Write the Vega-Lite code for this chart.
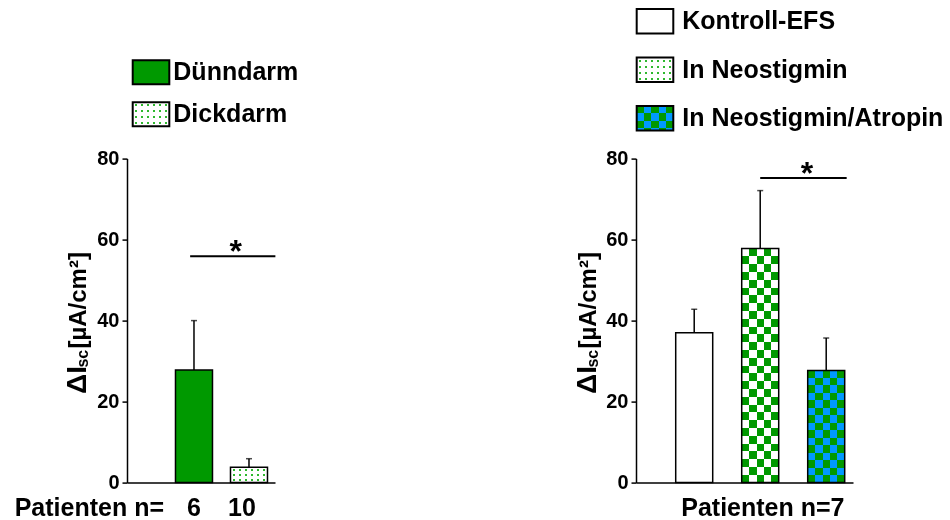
{
  "$schema": "https://vega.github.io/schema/vega-lite/v6.json",
  "autosize": {"type": "pad"},
  "padding": {"left": 14, "top": 8, "right": 2, "bottom": 2},
  "config": {
    "view": {"stroke": null},
    "font": "Liberation Sans",
    "axis": {"domainColor": "black", "tickColor": "black", "labelColor": "black", "grid": false},
    "text": {"font": "Liberation Sans", "fontWeight": "bold", "fontSize": 25, "color": "black"}
  },
  "datasets": {
    "links": [
      {"gruppe": "Dünndarm", "idx": 1, "mw": 27.8, "ob": 40.0, "n": 6},
      {"gruppe": "Dickdarm", "idx": 2, "mw": 3.8, "ob": 5.9, "n": 10}
    ],
    "rechts": [
      {"gruppe": "Kontroll-EFS", "idx": 1, "mw": 37.0, "ob": 42.8},
      {"gruppe": "In Neostigmin", "idx": 2, "mw": 57.8, "ob": 72.1},
      {"gruppe": "In Neostigmin/Atropin", "idx": 3, "mw": 27.7, "ob": 35.7}
    ],
    "sig_links": [{"von": 0.93, "bis": 2.48, "mitte": 1.76, "hoehe": 55.9}],
    "sig_rechts": [{"von": 2.0, "bis": 3.31, "mitte": 2.71, "hoehe": 75.2}]
  },
  "bounds": "flush",
  "spacing": 509,
  "hconcat": [
    {
      "bounds": "flush",
      "spacing": 27.6,
      "vconcat": [
        {
          "width": 148,
          "height": 121.4,
          "data": {"name": "links"},
          "layer": [
            {
              "transform": [{"filter": "datum.gruppe === 'Dünndarm'"}],
              "mark": {"type": "bar", "orient": "horizontal", "fill": "#009900", "stroke": "black", "strokeWidth": 2},
              "encoding": {
                "x": {"datum": 0, "scale": {"domain": [-0.156, 3.888], "padding": 0, "nice": false, "zero": false}, "axis": null},
                "x2": {"datum": 1},
                "y": {"field": "gruppe", "type": "nominal", "sort": null, "axis": null, "scale": {"type": "band", "paddingInner": 0.43, "paddingOuter": 0.657, "align": 0.926}}
              }
            },
            {
              "transform": [{"filter": "datum.gruppe === 'Dickdarm'"}],
              "mark": {"type": "bar", "orient": "horizontal", "fill": {"gradient": "linear", "x1": 0, "y1": 0, "x2": 1, "y2": 0, "stops": [
                {"offset": 0, "color": "#ffffff"}, {"offset": 0.055, "color": "#ffffff"}, {"offset": 0.055, "color": "#2eb82e"}, {"offset": 0.111, "color": "#2eb82e"}, {"offset": 0.111, "color": "#ffffff"},
                {"offset": 0.222, "color": "#ffffff"}, {"offset": 0.222, "color": "#2eb82e"}, {"offset": 0.278, "color": "#2eb82e"}, {"offset": 0.278, "color": "#ffffff"},
                {"offset": 0.389, "color": "#ffffff"}, {"offset": 0.389, "color": "#2eb82e"}, {"offset": 0.444, "color": "#2eb82e"}, {"offset": 0.444, "color": "#ffffff"},
                {"offset": 0.555, "color": "#ffffff"}, {"offset": 0.555, "color": "#2eb82e"}, {"offset": 0.611, "color": "#2eb82e"}, {"offset": 0.611, "color": "#ffffff"},
                {"offset": 0.722, "color": "#ffffff"}, {"offset": 0.722, "color": "#2eb82e"}, {"offset": 0.778, "color": "#2eb82e"}, {"offset": 0.778, "color": "#ffffff"},
                {"offset": 0.889, "color": "#ffffff"}, {"offset": 0.889, "color": "#2eb82e"}, {"offset": 0.944, "color": "#2eb82e"}, {"offset": 0.944, "color": "#ffffff"}, {"offset": 1, "color": "#ffffff"}]}},
              "encoding": {
                "x": {"datum": 0},
                "x2": {"datum": 1},
                "y": {"field": "gruppe", "type": "nominal", "sort": null}
              }
            },
            {
              "transform": [{"filter": "datum.gruppe === 'Dickdarm'"}],
              "mark": {"type": "bar", "orient": "horizontal", "blend": "lighten", "fill": {"gradient": "linear", "x1": 0, "y1": 0, "x2": 0, "y2": 1, "stops": [
                {"offset": 0, "color": "#ffffff"}, {"offset": 0.083, "color": "#ffffff"}, {"offset": 0.083, "color": "#000000"}, {"offset": 0.167, "color": "#000000"}, {"offset": 0.167, "color": "#ffffff"},
                {"offset": 0.333, "color": "#ffffff"}, {"offset": 0.333, "color": "#000000"}, {"offset": 0.417, "color": "#000000"}, {"offset": 0.417, "color": "#ffffff"},
                {"offset": 0.583, "color": "#ffffff"}, {"offset": 0.583, "color": "#000000"}, {"offset": 0.667, "color": "#000000"}, {"offset": 0.667, "color": "#ffffff"},
                {"offset": 0.833, "color": "#ffffff"}, {"offset": 0.833, "color": "#000000"}, {"offset": 0.917, "color": "#000000"}, {"offset": 0.917, "color": "#ffffff"}, {"offset": 1, "color": "#ffffff"}]}},
              "encoding": {
                "x": {"datum": 0},
                "x2": {"datum": 1},
                "y": {"field": "gruppe", "type": "nominal", "sort": null}
              }
            },
            {
              "transform": [{"filter": "datum.gruppe === 'Dickdarm'"}],
              "mark": {"type": "bar", "orient": "horizontal", "fillOpacity": 0, "stroke": "black", "strokeWidth": 2},
              "encoding": {
                "x": {"datum": 0},
                "x2": {"datum": 1},
                "y": {"field": "gruppe", "type": "nominal", "sort": null}
              }
            },
            {
              "mark": {"type": "text", "align": "left", "baseline": "middle", "dx": 4},
              "encoding": {
                "x": {"datum": 1},
                "y": {"field": "gruppe", "type": "nominal", "sort": null},
                "text": {"field": "gruppe"}
              }
            }
          ]
        },
        {
          "width": 148,
          "height": 324,
          "data": {"name": "links"},
          "layer": [
            {
              "transform": [{"filter": "datum.gruppe === 'Dünndarm'"}],
              "mark": {"type": "bar", "orient": "vertical", "width": 37, "fill": "#009900"},
              "encoding": {
                "x": {"field": "idx", "type": "quantitative", "title": null, "scale": {"domain": [-0.218, 2.473], "padding": 0, "nice": false, "zero": false},
                  "axis": {"labels": false, "ticks": false, "domain": true, "domainWidth": 1.5, "title": null}},
                "y": {"field": "mw", "type": "quantitative", "title": null, "scale": {"domain": [0, 80], "padding": 0, "nice": false},
                  "axis": {"values": [0, 20, 40, 60, 80], "labelFontSize": 20, "labelFontWeight": "bold", "labelFont": "Liberation Sans", "tickSize": 5, "tickWidth": 1.5, "domainWidth": 1.5, "labelPadding": 3, "title": null}}
              }
            },
            {
              "transform": [{"filter": "datum.gruppe === 'Dickdarm'"}],
              "mark": {"type": "bar", "orient": "vertical", "width": 37, "fill": {"gradient": "linear", "x1": 0, "y1": 0, "x2": 1, "y2": 0, "stops": [
                {"offset": 0, "color": "#ffffff"}, {"offset": 0.055, "color": "#ffffff"}, {"offset": 0.055, "color": "#2eb82e"}, {"offset": 0.111, "color": "#2eb82e"}, {"offset": 0.111, "color": "#ffffff"},
                {"offset": 0.222, "color": "#ffffff"}, {"offset": 0.222, "color": "#2eb82e"}, {"offset": 0.278, "color": "#2eb82e"}, {"offset": 0.278, "color": "#ffffff"},
                {"offset": 0.389, "color": "#ffffff"}, {"offset": 0.389, "color": "#2eb82e"}, {"offset": 0.444, "color": "#2eb82e"}, {"offset": 0.444, "color": "#ffffff"},
                {"offset": 0.555, "color": "#ffffff"}, {"offset": 0.555, "color": "#2eb82e"}, {"offset": 0.611, "color": "#2eb82e"}, {"offset": 0.611, "color": "#ffffff"},
                {"offset": 0.722, "color": "#ffffff"}, {"offset": 0.722, "color": "#2eb82e"}, {"offset": 0.778, "color": "#2eb82e"}, {"offset": 0.778, "color": "#ffffff"},
                {"offset": 0.889, "color": "#ffffff"}, {"offset": 0.889, "color": "#2eb82e"}, {"offset": 0.944, "color": "#2eb82e"}, {"offset": 0.944, "color": "#ffffff"}, {"offset": 1, "color": "#ffffff"}]}},
              "encoding": {
                "x": {"field": "idx", "type": "quantitative", "title": null},
                "y": {"field": "mw", "type": "quantitative", "title": null}
              }
            },
            {
              "transform": [{"filter": "datum.gruppe === 'Dickdarm'"}],
              "mark": {"type": "bar", "orient": "vertical", "width": 37, "blend": "lighten", "fill": {"gradient": "linear", "x1": 0, "y1": 0, "x2": 0, "y2": 1, "stops": [
                {"offset": 0, "color": "#ffffff"}, {"offset": 0.1, "color": "#ffffff"}, {"offset": 0.1, "color": "#000000"}, {"offset": 0.233, "color": "#000000"}, {"offset": 0.233, "color": "#ffffff"},
                {"offset": 0.433, "color": "#ffffff"}, {"offset": 0.433, "color": "#000000"}, {"offset": 0.567, "color": "#000000"}, {"offset": 0.567, "color": "#ffffff"},
                {"offset": 0.767, "color": "#ffffff"}, {"offset": 0.767, "color": "#000000"}, {"offset": 0.9, "color": "#000000"}, {"offset": 0.9, "color": "#ffffff"}, {"offset": 1, "color": "#ffffff"}]}},
              "encoding": {
                "x": {"field": "idx", "type": "quantitative", "title": null},
                "y": {"field": "mw", "type": "quantitative", "title": null}
              }
            },
            {
              "mark": {"type": "bar", "orient": "vertical", "width": 37, "fillOpacity": 0, "stroke": "black", "strokeWidth": 1.5},
              "encoding": {
                "x": {"field": "idx", "type": "quantitative", "title": null},
                "y": {"field": "mw", "type": "quantitative", "title": null}
              }
            },
            {
              "mark": {"type": "rule", "color": "black", "strokeWidth": 1.5},
              "encoding": {
                "x": {"field": "idx", "type": "quantitative", "title": null},
                "y": {"field": "mw", "type": "quantitative", "title": null},
                "y2": {"field": "ob"}
              }
            },
            {
              "mark": {"type": "tick", "orient": "horizontal", "size": 6, "thickness": 1.5, "color": "black"},
              "encoding": {
                "x": {"field": "idx", "type": "quantitative", "title": null},
                "y": {"field": "ob", "type": "quantitative", "title": null}
              }
            },
            {
              "data": {"name": "sig_links"},
              "mark": {"type": "rule", "color": "black", "strokeWidth": 2},
              "encoding": {
                "x": {"field": "von", "type": "quantitative", "title": null},
                "x2": {"field": "bis"},
                "y": {"field": "hoehe", "type": "quantitative", "title": null}
              }
            },
            {
              "data": {"name": "sig_links"},
              "mark": {"type": "text", "text": "*", "fontSize": 32, "baseline": "alphabetic", "dy": 6},
              "encoding": {
                "x": {"field": "mitte", "type": "quantitative", "title": null},
                "y": {"field": "hoehe", "type": "quantitative", "title": null}
              }
            },
            {
              "transform": [{"filter": "datum.idx === 1"}],
              "mark": {"type": "text", "align": "center", "baseline": "alphabetic"},
              "encoding": {
                "x": {"field": "idx", "type": "quantitative", "title": null},
                "y": {"datum": -8.15},
                "text": {"field": "n"}
              }
            },
            {
              "transform": [{"filter": "datum.idx === 2"}],
              "mark": {"type": "text", "align": "center", "baseline": "alphabetic", "dx": -7},
              "encoding": {
                "x": {"field": "idx", "type": "quantitative", "title": null},
                "y": {"datum": -8.15},
                "text": {"field": "n"}
              }
            },
            {
              "data": {"values": [{"t": "Patienten n="}]},
              "mark": {"type": "text", "align": "right", "baseline": "alphabetic"},
              "encoding": {
                "x": {"datum": 0.455},
                "y": {"datum": -8.15},
                "text": {"field": "t"}
              }
            },
            {
              "data": {"values": [{"t": "ΔI"}]},
              "mark": {"type": "text", "angle": 270, "align": "left", "baseline": "alphabetic", "fontSize": 28},
              "encoding": {"x": {"datum": -0.963}, "y": {"datum": 21.9}, "text": {"field": "t"}}
            },
            {
              "data": {"values": [{"t": "sc"}]},
              "mark": {"type": "text", "angle": 270, "align": "left", "baseline": "alphabetic", "fontSize": 16, "dy": 2},
              "encoding": {"x": {"datum": -0.963}, "y": {"datum": 28.4}, "text": {"field": "t"}}
            },
            {
              "data": {"values": [{"t": "[µA/cm²]"}]},
              "mark": {"type": "text", "angle": 270, "align": "left", "baseline": "alphabetic", "fontSize": 24},
              "encoding": {"x": {"datum": -0.963}, "y": {"datum": 33.1}, "text": {"field": "t"}}
            }
          ]
        }
      ]
    },
    {
      "bounds": "flush",
      "spacing": 27.6,
      "vconcat": [
        {
          "width": 217,
          "height": 121.4,
          "data": {"name": "rechts"},
          "layer": [
            {
              "transform": [{"filter": "datum.gruppe === 'Kontroll-EFS'"}],
              "mark": {"type": "bar", "orient": "horizontal", "fill": "#ffffff", "stroke": "black", "strokeWidth": 2},
              "encoding": {
                "x": {"datum": 0, "scale": {"domain": [-0.019, 5.91], "padding": 0, "nice": false, "zero": false}, "axis": null},
                "x2": {"datum": 1},
                "y": {"field": "gruppe", "type": "nominal", "sort": null, "axis": null, "scale": {"type": "band", "paddingInner": 0.497, "paddingOuter": 0, "align": 0}}
              }
            },
            {
              "transform": [{"filter": "datum.gruppe === 'In Neostigmin'"}],
              "mark": {"type": "bar", "orient": "horizontal", "fill": {"gradient": "linear", "x1": 0, "y1": 0, "x2": 1, "y2": 0, "stops": [
                {"offset": 0, "color": "#ffffff"}, {"offset": 0.055, "color": "#ffffff"}, {"offset": 0.055, "color": "#2eb82e"}, {"offset": 0.111, "color": "#2eb82e"}, {"offset": 0.111, "color": "#ffffff"},
                {"offset": 0.222, "color": "#ffffff"}, {"offset": 0.222, "color": "#2eb82e"}, {"offset": 0.278, "color": "#2eb82e"}, {"offset": 0.278, "color": "#ffffff"},
                {"offset": 0.389, "color": "#ffffff"}, {"offset": 0.389, "color": "#2eb82e"}, {"offset": 0.444, "color": "#2eb82e"}, {"offset": 0.444, "color": "#ffffff"},
                {"offset": 0.555, "color": "#ffffff"}, {"offset": 0.555, "color": "#2eb82e"}, {"offset": 0.611, "color": "#2eb82e"}, {"offset": 0.611, "color": "#ffffff"},
                {"offset": 0.722, "color": "#ffffff"}, {"offset": 0.722, "color": "#2eb82e"}, {"offset": 0.778, "color": "#2eb82e"}, {"offset": 0.778, "color": "#ffffff"},
                {"offset": 0.889, "color": "#ffffff"}, {"offset": 0.889, "color": "#2eb82e"}, {"offset": 0.944, "color": "#2eb82e"}, {"offset": 0.944, "color": "#ffffff"}, {"offset": 1, "color": "#ffffff"}]}},
              "encoding": {
                "x": {"datum": 0},
                "x2": {"datum": 1},
                "y": {"field": "gruppe", "type": "nominal", "sort": null}
              }
            },
            {
              "transform": [{"filter": "datum.gruppe === 'In Neostigmin'"}],
              "mark": {"type": "bar", "orient": "horizontal", "blend": "lighten", "fill": {"gradient": "linear", "x1": 0, "y1": 0, "x2": 0, "y2": 1, "stops": [
                {"offset": 0, "color": "#ffffff"}, {"offset": 0.083, "color": "#ffffff"}, {"offset": 0.083, "color": "#000000"}, {"offset": 0.167, "color": "#000000"}, {"offset": 0.167, "color": "#ffffff"},
                {"offset": 0.333, "color": "#ffffff"}, {"offset": 0.333, "color": "#000000"}, {"offset": 0.417, "color": "#000000"}, {"offset": 0.417, "color": "#ffffff"},
                {"offset": 0.583, "color": "#ffffff"}, {"offset": 0.583, "color": "#000000"}, {"offset": 0.667, "color": "#000000"}, {"offset": 0.667, "color": "#ffffff"},
                {"offset": 0.833, "color": "#ffffff"}, {"offset": 0.833, "color": "#000000"}, {"offset": 0.917, "color": "#000000"}, {"offset": 0.917, "color": "#ffffff"}, {"offset": 1, "color": "#ffffff"}]}},
              "encoding": {
                "x": {"datum": 0},
                "x2": {"datum": 1},
                "y": {"field": "gruppe", "type": "nominal", "sort": null}
              }
            },
            {
              "transform": [{"filter": "datum.gruppe === 'In Neostigmin/Atropin'"}],
              "mark": {"type": "bar", "orient": "horizontal", "fill": {"gradient": "linear", "x1": 0, "y1": 0, "x2": 1, "y2": 0, "stops": [
                {"offset": 0, "color": "#000000"}, {"offset": 0.2, "color": "#000000"}, {"offset": 0.2, "color": "#0000ff"}, {"offset": 0.4, "color": "#0000ff"},
                {"offset": 0.4, "color": "#000000"}, {"offset": 0.6, "color": "#000000"}, {"offset": 0.6, "color": "#0000ff"}, {"offset": 0.8, "color": "#0000ff"},
                {"offset": 0.8, "color": "#000000"}, {"offset": 1, "color": "#000000"}]}},
              "encoding": {
                "x": {"datum": 0},
                "x2": {"datum": 1},
                "y": {"field": "gruppe", "type": "nominal", "sort": null}
              }
            },
            {
              "transform": [{"filter": "datum.gruppe === 'In Neostigmin/Atropin'"}],
              "mark": {"type": "bar", "orient": "horizontal", "blend": "difference", "fill": {"gradient": "linear", "x1": 0, "y1": 0, "x2": 0, "y2": 1, "stops": [
                {"offset": 0, "color": "#000000"}, {"offset": 0.3, "color": "#000000"}, {"offset": 0.3, "color": "#0000ff"}, {"offset": 0.6, "color": "#0000ff"},
                {"offset": 0.6, "color": "#000000"}, {"offset": 0.9, "color": "#000000"}, {"offset": 0.9, "color": "#0000ff"}, {"offset": 1, "color": "#0000ff"}]}},
              "encoding": {
                "x": {"datum": 0},
                "x2": {"datum": 1},
                "y": {"field": "gruppe", "type": "nominal", "sort": null}
              }
            },
            {
              "transform": [{"filter": "datum.gruppe === 'In Neostigmin/Atropin'"}],
              "mark": {"type": "bar", "orient": "horizontal", "blend": "difference", "fill": "#009900"},
              "encoding": {
                "x": {"datum": 0},
                "x2": {"datum": 1},
                "y": {"field": "gruppe", "type": "nominal", "sort": null}
              }
            },
            {
              "transform": [{"filter": "datum.gruppe !== 'Kontroll-EFS'"}],
              "mark": {"type": "bar", "orient": "horizontal", "fillOpacity": 0, "stroke": "black", "strokeWidth": 2},
              "encoding": {
                "x": {"datum": 0},
                "x2": {"datum": 1},
                "y": {"field": "gruppe", "type": "nominal", "sort": null}
              }
            },
            {
              "mark": {"type": "text", "align": "left", "baseline": "middle", "dx": 9},
              "encoding": {
                "x": {"datum": 1},
                "y": {"field": "gruppe", "type": "nominal", "sort": null},
                "text": {"field": "gruppe"}
              }
            }
          ]
        },
        {
          "width": 217,
          "height": 324,
          "data": {"name": "rechts"},
          "layer": [
            {
              "transform": [{"filter": "datum.gruppe === 'Kontroll-EFS'"}],
              "mark": {"type": "bar", "orient": "vertical", "width": 37, "fill": "#ffffff"},
              "encoding": {
                "x": {"field": "idx", "type": "quantitative", "title": null, "scale": {"domain": [0.118, 3.406], "padding": 0, "nice": false, "zero": false},
                  "axis": {"labels": false, "ticks": false, "domain": true, "domainWidth": 1.5, "title": null}},
                "y": {"field": "mw", "type": "quantitative", "title": null, "scale": {"domain": [0, 80], "padding": 0, "nice": false},
                  "axis": {"values": [0, 20, 40, 60, 80], "labelFontSize": 20, "labelFontWeight": "bold", "labelFont": "Liberation Sans", "tickSize": 5, "tickWidth": 1.5, "domainWidth": 1.5, "labelPadding": 3, "title": null}}
              }
            },
            {
              "transform": [{"filter": "datum.gruppe === 'In Neostigmin'"}],
              "mark": {"type": "bar", "orient": "vertical", "width": 37, "fill": {"gradient": "linear", "x1": 0, "y1": 0, "x2": 1, "y2": 0, "stops": [
                {"offset": 0, "color": "#000000"}, {"offset": 0.2, "color": "#000000"}, {"offset": 0.2, "color": "#ff66ff"}, {"offset": 0.4, "color": "#ff66ff"},
                {"offset": 0.4, "color": "#000000"}, {"offset": 0.6, "color": "#000000"}, {"offset": 0.6, "color": "#ff66ff"}, {"offset": 0.8, "color": "#ff66ff"},
                {"offset": 0.8, "color": "#000000"}, {"offset": 1, "color": "#000000"}]}},
              "encoding": {
                "x": {"field": "idx", "type": "quantitative", "title": null},
                "y": {"field": "mw", "type": "quantitative", "title": null}
              }
            },
            {
              "transform": [{"filter": "datum.gruppe === 'In Neostigmin'"}],
              "mark": {"type": "bar", "orient": "vertical", "width": 37, "blend": "difference", "fill": {"gradient": "linear", "x1": 0, "y1": 0, "x2": 0, "y2": 1, "stops": [
                {"offset": 0, "color": "#000000"}, {"offset": 0.0333, "color": "#000000"}, {"offset": 0.0333, "color": "#ff66ff"}, {"offset": 0.0667, "color": "#ff66ff"},
                {"offset": 0.0667, "color": "#000000"}, {"offset": 0.1, "color": "#000000"}, {"offset": 0.1, "color": "#ff66ff"}, {"offset": 0.1333, "color": "#ff66ff"},
                {"offset": 0.1333, "color": "#000000"}, {"offset": 0.1667, "color": "#000000"}, {"offset": 0.1667, "color": "#ff66ff"}, {"offset": 0.2, "color": "#ff66ff"},
                {"offset": 0.2, "color": "#000000"}, {"offset": 0.2333, "color": "#000000"}, {"offset": 0.2333, "color": "#ff66ff"}, {"offset": 0.2667, "color": "#ff66ff"},
                {"offset": 0.2667, "color": "#000000"}, {"offset": 0.3, "color": "#000000"}, {"offset": 0.3, "color": "#ff66ff"}, {"offset": 0.3333, "color": "#ff66ff"},
                {"offset": 0.3333, "color": "#000000"}, {"offset": 0.3667, "color": "#000000"}, {"offset": 0.3667, "color": "#ff66ff"}, {"offset": 0.4, "color": "#ff66ff"},
                {"offset": 0.4, "color": "#000000"}, {"offset": 0.4333, "color": "#000000"}, {"offset": 0.4333, "color": "#ff66ff"}, {"offset": 0.4667, "color": "#ff66ff"},
                {"offset": 0.4667, "color": "#000000"}, {"offset": 0.5, "color": "#000000"}, {"offset": 0.5, "color": "#ff66ff"}, {"offset": 0.5333, "color": "#ff66ff"},
                {"offset": 0.5333, "color": "#000000"}, {"offset": 0.5667, "color": "#000000"}, {"offset": 0.5667, "color": "#ff66ff"}, {"offset": 0.6, "color": "#ff66ff"},
                {"offset": 0.6, "color": "#000000"}, {"offset": 0.6333, "color": "#000000"}, {"offset": 0.6333, "color": "#ff66ff"}, {"offset": 0.6667, "color": "#ff66ff"},
                {"offset": 0.6667, "color": "#000000"}, {"offset": 0.7, "color": "#000000"}, {"offset": 0.7, "color": "#ff66ff"}, {"offset": 0.7333, "color": "#ff66ff"},
                {"offset": 0.7333, "color": "#000000"}, {"offset": 0.7667, "color": "#000000"}, {"offset": 0.7667, "color": "#ff66ff"}, {"offset": 0.8, "color": "#ff66ff"},
                {"offset": 0.8, "color": "#000000"}, {"offset": 0.8333, "color": "#000000"}, {"offset": 0.8333, "color": "#ff66ff"}, {"offset": 0.8667, "color": "#ff66ff"},
                {"offset": 0.8667, "color": "#000000"}, {"offset": 0.9, "color": "#000000"}, {"offset": 0.9, "color": "#ff66ff"}, {"offset": 0.9333, "color": "#ff66ff"},
                {"offset": 0.9333, "color": "#000000"}, {"offset": 0.9667, "color": "#000000"}, {"offset": 0.9667, "color": "#ff66ff"}, {"offset": 1, "color": "#ff66ff"}]}},
              "encoding": {
                "x": {"field": "idx", "type": "quantitative", "title": null},
                "y": {"field": "mw", "type": "quantitative", "title": null}
              }
            },
            {
              "transform": [{"filter": "datum.gruppe === 'In Neostigmin'"}],
              "mark": {"type": "bar", "orient": "vertical", "width": 37, "blend": "difference", "fill": "#ffffff"},
              "encoding": {
                "x": {"field": "idx", "type": "quantitative", "title": null},
                "y": {"field": "mw", "type": "quantitative", "title": null}
              }
            },
            {
              "transform": [{"filter": "datum.gruppe === 'In Neostigmin/Atropin'"}],
              "mark": {"type": "bar", "orient": "vertical", "width": 37, "fill": {"gradient": "linear", "x1": 0, "y1": 0, "x2": 1, "y2": 0, "stops": [
                {"offset": 0, "color": "#000000"}, {"offset": 0.2, "color": "#000000"}, {"offset": 0.2, "color": "#0000ff"}, {"offset": 0.4, "color": "#0000ff"},
                {"offset": 0.4, "color": "#000000"}, {"offset": 0.6, "color": "#000000"}, {"offset": 0.6, "color": "#0000ff"}, {"offset": 0.8, "color": "#0000ff"},
                {"offset": 0.8, "color": "#000000"}, {"offset": 1, "color": "#000000"}]}},
              "encoding": {
                "x": {"field": "idx", "type": "quantitative", "title": null},
                "y": {"field": "mw", "type": "quantitative", "title": null}
              }
            },
            {
              "transform": [{"filter": "datum.gruppe === 'In Neostigmin/Atropin'"}],
              "mark": {"type": "bar", "orient": "vertical", "width": 37, "blend": "difference", "fill": {"gradient": "linear", "x1": 0, "y1": 0, "x2": 0, "y2": 1, "stops": [
                {"offset": 0, "color": "#000000"}, {"offset": 0.0667, "color": "#000000"}, {"offset": 0.0667, "color": "#0000ff"}, {"offset": 0.1333, "color": "#0000ff"},
                {"offset": 0.1333, "color": "#000000"}, {"offset": 0.2, "color": "#000000"}, {"offset": 0.2, "color": "#0000ff"}, {"offset": 0.2667, "color": "#0000ff"},
                {"offset": 0.2667, "color": "#000000"}, {"offset": 0.3333, "color": "#000000"}, {"offset": 0.3333, "color": "#0000ff"}, {"offset": 0.4, "color": "#0000ff"},
                {"offset": 0.4, "color": "#000000"}, {"offset": 0.4667, "color": "#000000"}, {"offset": 0.4667, "color": "#0000ff"}, {"offset": 0.5333, "color": "#0000ff"},
                {"offset": 0.5333, "color": "#000000"}, {"offset": 0.6, "color": "#000000"}, {"offset": 0.6, "color": "#0000ff"}, {"offset": 0.6667, "color": "#0000ff"},
                {"offset": 0.6667, "color": "#000000"}, {"offset": 0.7333, "color": "#000000"}, {"offset": 0.7333, "color": "#0000ff"}, {"offset": 0.8, "color": "#0000ff"},
                {"offset": 0.8, "color": "#000000"}, {"offset": 0.8667, "color": "#000000"}, {"offset": 0.8667, "color": "#0000ff"}, {"offset": 0.9333, "color": "#0000ff"},
                {"offset": 0.9333, "color": "#000000"}, {"offset": 1, "color": "#000000"}]}},
              "encoding": {
                "x": {"field": "idx", "type": "quantitative", "title": null},
                "y": {"field": "mw", "type": "quantitative", "title": null}
              }
            },
            {
              "transform": [{"filter": "datum.gruppe === 'In Neostigmin/Atropin'"}],
              "mark": {"type": "bar", "orient": "vertical", "width": 37, "blend": "difference", "fill": "#009900"},
              "encoding": {
                "x": {"field": "idx", "type": "quantitative", "title": null},
                "y": {"field": "mw", "type": "quantitative", "title": null}
              }
            },
            {
              "mark": {"type": "bar", "orient": "vertical", "width": 37, "fillOpacity": 0, "stroke": "black", "strokeWidth": 1.5},
              "encoding": {
                "x": {"field": "idx", "type": "quantitative", "title": null},
                "y": {"field": "mw", "type": "quantitative", "title": null}
              }
            },
            {
              "mark": {"type": "rule", "color": "black", "strokeWidth": 1.5},
              "encoding": {
                "x": {"field": "idx", "type": "quantitative", "title": null},
                "y": {"field": "mw", "type": "quantitative", "title": null},
                "y2": {"field": "ob"}
              }
            },
            {
              "mark": {"type": "tick", "orient": "horizontal", "size": 6, "thickness": 1.5, "color": "black"},
              "encoding": {
                "x": {"field": "idx", "type": "quantitative", "title": null},
                "y": {"field": "ob", "type": "quantitative", "title": null}
              }
            },
            {
              "data": {"name": "sig_rechts"},
              "mark": {"type": "rule", "color": "black", "strokeWidth": 2},
              "encoding": {
                "x": {"field": "von", "type": "quantitative", "title": null},
                "x2": {"field": "bis"},
                "y": {"field": "hoehe", "type": "quantitative", "title": null}
              }
            },
            {
              "data": {"name": "sig_rechts"},
              "mark": {"type": "text", "text": "*", "fontSize": 32, "baseline": "alphabetic", "dy": 6},
              "encoding": {
                "x": {"field": "mitte", "type": "quantitative", "title": null},
                "y": {"field": "hoehe", "type": "quantitative", "title": null}
              }
            },
            {
              "data": {"values": [{"t": "Patienten n=7"}]},
              "mark": {"type": "text", "align": "center", "baseline": "alphabetic"},
              "encoding": {
                "x": {"datum": 2.04},
                "y": {"datum": -8.15},
                "text": {"field": "t"}
              }
            },
            {
              "data": {"values": [{"t": "ΔI"}]},
              "mark": {"type": "text", "angle": 270, "align": "left", "baseline": "alphabetic", "fontSize": 28},
              "encoding": {"x": {"datum": -0.488}, "y": {"datum": 21.9}, "text": {"field": "t"}}
            },
            {
              "data": {"values": [{"t": "sc"}]},
              "mark": {"type": "text", "angle": 270, "align": "left", "baseline": "alphabetic", "fontSize": 16, "dy": 2},
              "encoding": {"x": {"datum": -0.488}, "y": {"datum": 28.4}, "text": {"field": "t"}}
            },
            {
              "data": {"values": [{"t": "[µA/cm²]"}]},
              "mark": {"type": "text", "angle": 270, "align": "left", "baseline": "alphabetic", "fontSize": 24},
              "encoding": {"x": {"datum": -0.488}, "y": {"datum": 33.1}, "text": {"field": "t"}}
            }
          ]
        }
      ]
    }
  ]
}
